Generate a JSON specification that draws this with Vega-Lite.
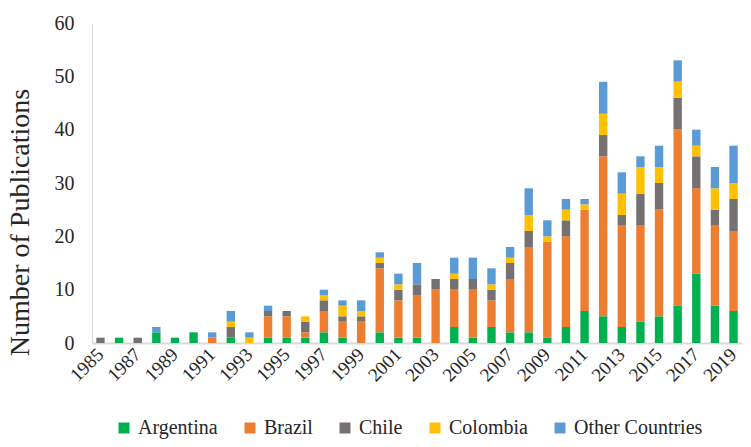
{
  "$schema": "https://vega.github.io/schema/vega-lite/v6.json",
  "autosize": {"type": "none"},
  "width": 650,
  "height": 320,
  "padding": {"left": 92, "top": 23, "right": 9, "bottom": 104},
  "background": "white",
  "config": {
    "view": {"stroke": null},
    "axis": {"grid": false, "ticks": false, "tickSize": 0, "labelColor": "#262626", "titleColor": "#262626", "titleFontWeight": "normal", "labelFont": "Liberation Serif", "titleFont": "Liberation Serif"},
    "legend": {"labelFont": "Liberation Serif"}
  },
  "data": {
    "values": [
      {"year": 1985, "Argentina": 0, "Brazil": 0, "Chile": 1, "Colombia": 0, "Other Countries": 0},
      {"year": 1986, "Argentina": 1, "Brazil": 0, "Chile": 0, "Colombia": 0, "Other Countries": 0},
      {"year": 1987, "Argentina": 0, "Brazil": 0, "Chile": 1, "Colombia": 0, "Other Countries": 0},
      {"year": 1988, "Argentina": 2, "Brazil": 0, "Chile": 0, "Colombia": 0, "Other Countries": 1},
      {"year": 1989, "Argentina": 1, "Brazil": 0, "Chile": 0, "Colombia": 0, "Other Countries": 0},
      {"year": 1990, "Argentina": 2, "Brazil": 0, "Chile": 0, "Colombia": 0, "Other Countries": 0},
      {"year": 1991, "Argentina": 0, "Brazil": 1, "Chile": 0, "Colombia": 0, "Other Countries": 1},
      {"year": 1992, "Argentina": 1, "Brazil": 0, "Chile": 2, "Colombia": 1, "Other Countries": 2},
      {"year": 1993, "Argentina": 0, "Brazil": 0, "Chile": 0, "Colombia": 1, "Other Countries": 1},
      {"year": 1994, "Argentina": 1, "Brazil": 4, "Chile": 1, "Colombia": 0, "Other Countries": 1},
      {"year": 1995, "Argentina": 1, "Brazil": 4, "Chile": 1, "Colombia": 0, "Other Countries": 0},
      {"year": 1996, "Argentina": 1, "Brazil": 1, "Chile": 2, "Colombia": 1, "Other Countries": 0},
      {"year": 1997, "Argentina": 2, "Brazil": 4, "Chile": 2, "Colombia": 1, "Other Countries": 1},
      {"year": 1998, "Argentina": 1, "Brazil": 3, "Chile": 1, "Colombia": 2, "Other Countries": 1},
      {"year": 1999, "Argentina": 0, "Brazil": 4, "Chile": 1, "Colombia": 1, "Other Countries": 2},
      {"year": 2000, "Argentina": 2, "Brazil": 12, "Chile": 1, "Colombia": 1, "Other Countries": 1},
      {"year": 2001, "Argentina": 1, "Brazil": 7, "Chile": 2, "Colombia": 1, "Other Countries": 2},
      {"year": 2002, "Argentina": 1, "Brazil": 8, "Chile": 2, "Colombia": 0, "Other Countries": 4},
      {"year": 2003, "Argentina": 0, "Brazil": 10, "Chile": 2, "Colombia": 0, "Other Countries": 0},
      {"year": 2004, "Argentina": 3, "Brazil": 7, "Chile": 2, "Colombia": 1, "Other Countries": 3},
      {"year": 2005, "Argentina": 1, "Brazil": 9, "Chile": 2, "Colombia": 0, "Other Countries": 4},
      {"year": 2006, "Argentina": 3, "Brazil": 5, "Chile": 2, "Colombia": 1, "Other Countries": 3},
      {"year": 2007, "Argentina": 2, "Brazil": 10, "Chile": 3, "Colombia": 1, "Other Countries": 2},
      {"year": 2008, "Argentina": 2, "Brazil": 16, "Chile": 3, "Colombia": 3, "Other Countries": 5},
      {"year": 2009, "Argentina": 1, "Brazil": 18, "Chile": 0, "Colombia": 1, "Other Countries": 3},
      {"year": 2010, "Argentina": 3, "Brazil": 17, "Chile": 3, "Colombia": 2, "Other Countries": 2},
      {"year": 2011, "Argentina": 6, "Brazil": 19, "Chile": 0, "Colombia": 1, "Other Countries": 1},
      {"year": 2012, "Argentina": 5, "Brazil": 30, "Chile": 4, "Colombia": 4, "Other Countries": 6},
      {"year": 2013, "Argentina": 3, "Brazil": 19, "Chile": 2, "Colombia": 4, "Other Countries": 4},
      {"year": 2014, "Argentina": 4, "Brazil": 18, "Chile": 6, "Colombia": 5, "Other Countries": 2},
      {"year": 2015, "Argentina": 5, "Brazil": 20, "Chile": 5, "Colombia": 3, "Other Countries": 4},
      {"year": 2016, "Argentina": 7, "Brazil": 33, "Chile": 6, "Colombia": 3, "Other Countries": 4},
      {"year": 2017, "Argentina": 13, "Brazil": 16, "Chile": 6, "Colombia": 2, "Other Countries": 3},
      {"year": 2018, "Argentina": 7, "Brazil": 15, "Chile": 3, "Colombia": 4, "Other Countries": 4},
      {"year": 2019, "Argentina": 6, "Brazil": 15, "Chile": 6, "Colombia": 3, "Other Countries": 7}
    ]
  },
  "transform": [
    {"fold": ["Argentina", "Brazil", "Chile", "Colombia", "Other Countries"], "as": ["country", "n"]}
  ],
  "mark": {"type": "bar"},
  "encoding": {
    "x": {
      "field": "year",
      "type": "ordinal",
      "scale": {"paddingInner": 0.55, "paddingOuter": 0.23},
      "axis": {
        "title": null,
        "values": [1985, 1987, 1989, 1991, 1993, 1995, 1997, 1999, 2001, 2003, 2005, 2007, 2009, 2011, 2013, 2015, 2017, 2019],
        "labelAngle": -45,
        "labelAlign": "right",
        "labelBaseline": "middle",
        "labelFontSize": 19,
        "labelPadding": 8,
        "domainColor": "#d9d9d9",
        "domainWidth": 2
      }
    },
    "y": {
      "field": "n",
      "type": "quantitative",
      "stack": "zero",
      "scale": {"domain": [0, 60], "nice": false},
      "axis": {
        "title": "Number of Publications",
        "values": [0, 10, 20, 30, 40, 50, 60],
        "labelFontSize": 20,
        "labelPadding": 18,
        "titleFontSize": 28,
        "titleX": -58,
        "titleY": 199,
        "titleAngle": -90,
        "titleAlign": "center",
        "titleBaseline": "bottom",
        "domainColor": "#d9d9d9",
        "domainWidth": 1
      }
    },
    "color": {
      "field": "country",
      "type": "nominal",
      "sort": ["Argentina", "Brazil", "Chile", "Colombia", "Other Countries"],
      "scale": {
        "domain": ["Argentina", "Brazil", "Chile", "Colombia", "Other Countries"],
        "range": ["#00B050", "#ED7D31", "#767171", "#FFC000", "#5B9BD5"]
      },
      "legend": {
        "title": null,
        "orient": "none",
        "direction": "horizontal",
        "legendX": 22,
        "legendY": 395,
        "symbolType": "square",
        "symbolSize": 121,
        "symbolStrokeWidth": 0,
        "symbolOpacity": 1,
        "labelFont": "Liberation Serif",
        "labelFontSize": 20,
        "labelColor": "#262626",
        "labelOffset": 4,
        "columnPadding": 22,
        "labelLimit": 300
      }
    },
    "order": {"field": "country", "sort": "ascending"}
  }
}
